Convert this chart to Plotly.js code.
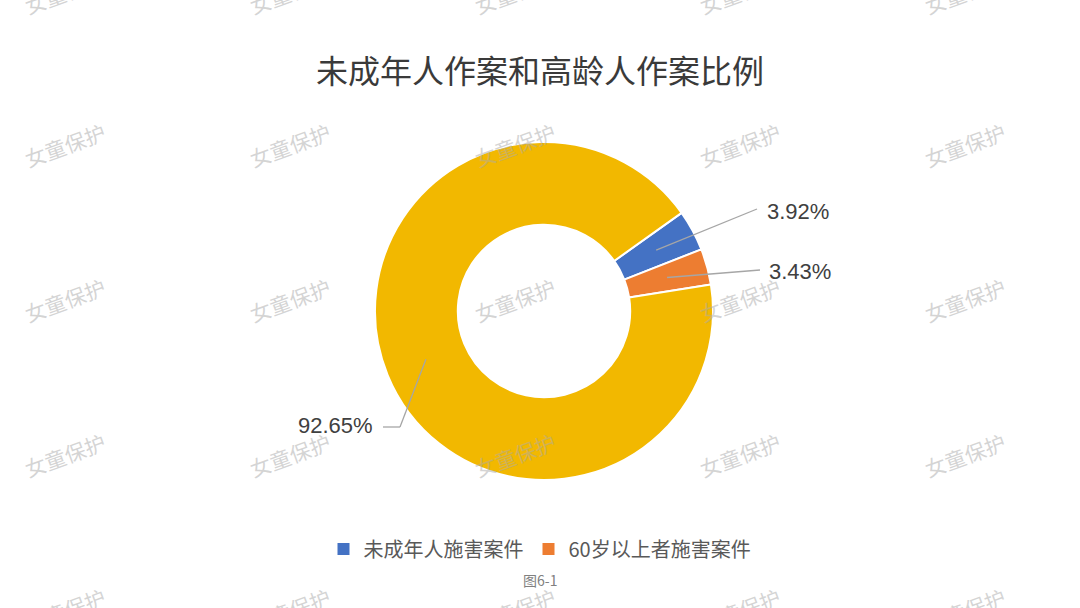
<!DOCTYPE html>
<html>
<head>
<meta charset="utf-8">
<script src="https://cdn.plot.ly/plotly-3.0.1.min.js"></script>
<style>
  html, body { margin: 0; padding: 0; background: #ffffff; }
  #chart { width: 1080px; height: 608px; }
</style>
</head>
<body>
<div id="chart"></div>
<script>
// ---- data ----
const sliceLabels = ['未成年人施害案件', '60岁以上者施害案件', '其他案件'];
const sliceValues = [3.92, 3.43, 92.65];
const sliceColors = ['#4472C4', '#ED7D31', '#F2B800'];
const legendLabels = ['未成年人施害案件', '60岁以上者施害案件'];
const legendColors = ['#4472C4', '#ED7D31'];
const valueTexts = ['3.92%', '3.43%', '92.65%'];
const chartTitle = '未成年人作案和高龄人作案比例';
const captionText = '图6-1';
const watermarkText = '女童保护';

// ---- layout geometry ----
const W = 1080, H = 608;
const cx = 544, cy = 311, R = 169, hole = 0.51;
const rotation = 54.5;
const px2x = p => p / W;
const px2y = p => 1 - p / H;

const traces = [{
  type: 'pie',
  labels: sliceLabels,
  values: sliceValues,
  sort: false,
  direction: 'clockwise',
  rotation: rotation,
  hole: hole,
  marker: { colors: sliceColors, line: { color: '#ffffff', width: 2 } },
  textinfo: 'none',
  hoverinfo: 'label+percent',
  showlegend: false,
  domain: { x: [px2x(cx - R), px2x(cx + R)], y: [px2y(cy + R), px2y(cy - R)] }
}];
legendLabels.forEach((name, i) => {
  traces.push({
    type: 'scatter', mode: 'markers', x: [null], y: [null], name: name,
    marker: { symbol: 'square', size: 12, color: legendColors[i] },
    showlegend: true, hoverinfo: 'skip'
  });
});

// label leader lines: computed from slice mid-angles
const total = sliceValues.reduce((a, b) => a + b, 0);
const labelEnds = [
  { end: [757, 209], text: [765, 211], anchor: 'left' },
  { end: [760, 270], text: [767, 271], anchor: 'left' },
  { end: [400, 427], elbow: [383, 427], text: [375, 425], anchor: 'right' }
];
const shapes = [];
const annotations = [];
let cum = 0;
const rMid = R * (1 + hole) / 2;
sliceValues.forEach((v, i) => {
  const theta = (rotation + 360 * (cum + v / 2) / total) * Math.PI / 180;
  cum += v;
  const sx = cx + rMid * Math.sin(theta);
  const sy = cy - rMid * Math.cos(theta);
  const le = labelEnds[i];
  const lineStyle = { color: '#a6a6a6', width: 1.3 };
  shapes.push({ type: 'line', xref: 'paper', yref: 'paper',
    x0: px2x(sx), y0: px2y(sy), x1: px2x(le.end[0]), y1: px2y(le.end[1]), line: lineStyle });
  if (le.elbow) {
    shapes.push({ type: 'line', xref: 'paper', yref: 'paper',
      x0: px2x(le.end[0]), y0: px2y(le.end[1]), x1: px2x(le.elbow[0]), y1: px2y(le.elbow[1]), line: lineStyle });
  }
  annotations.push({ xref: 'paper', yref: 'paper', x: px2x(le.text[0]), y: px2y(le.text[1]),
    xanchor: le.anchor, yanchor: 'middle', showarrow: false, text: valueTexts[i],
    font: { family: 'Liberation Sans, Arial, sans-serif', size: 22, color: '#404040' } });
});

// caption
annotations.push({ xref: 'paper', yref: 'paper', x: 0.5, y: px2y(580), xanchor: 'center', yanchor: 'middle',
  showarrow: false, text: captionText,
  font: { family: 'Noto Sans CJK SC, sans-serif', size: 14, color: '#808080' } });

// watermarks
const wmCols = [65, 290, 515, 740, 965];
const wmRows = [-8, 145, 300, 455, 610];
wmRows.forEach(ry => wmCols.forEach(rx => {
  annotations.push({ xref: 'paper', yref: 'paper', x: px2x(rx), y: px2y(ry), xanchor: 'center', yanchor: 'middle',
    showarrow: false, text: watermarkText, textangle: -20,
    font: { family: 'Noto Sans CJK SC, sans-serif', size: 21, color: 'rgba(170,170,170,0.5)' } });
}));

const layout = {
  width: W, height: H,
  margin: { l: 0, r: 0, t: 0, b: 0 },
  paper_bgcolor: '#ffffff', plot_bgcolor: '#ffffff',
  title: { text: chartTitle, x: 0.5, xanchor: 'center', y: px2y(72), yanchor: 'middle',
    font: { family: 'Noto Sans CJK SC, sans-serif', size: 32, color: '#3a3a3a' } },
  xaxis: { visible: false }, yaxis: { visible: false },
  showlegend: true,
  legend: { orientation: 'h', x: 0.5, xanchor: 'center', y: px2y(549), yanchor: 'middle',
    itemwidth: 30,
    font: { family: 'Noto Sans CJK SC, sans-serif', size: 20, color: '#595959' },
    itemclick: false, itemdoubleclick: false },
  shapes: shapes,
  annotations: annotations
};

Plotly.newPlot('chart', traces, layout, { displayModeBar: false, staticPlot: true });
</script>
</body>
</html>
